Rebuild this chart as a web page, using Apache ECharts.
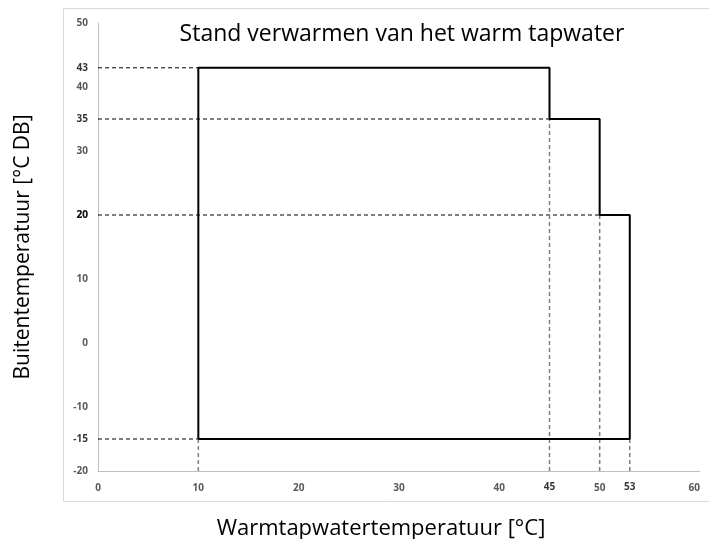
<!DOCTYPE html>
<html>
<head>
<meta charset="utf-8">
<script src="https://cdn.jsdelivr.net/npm/echarts@6/dist/echarts.min.js"></script>
<style>
  html, body { margin: 0; padding: 0; background: #fff; }
  #main { width: 709px; height: 539px; }
</style>
</head>
<body>
<div id="main"></div>
<script>
// operating envelope (warm tap water temp vs outdoor temp)
var envelopeX = [10, 10, 45, 45, 50, 50, 53, 53, 10];
var envelopeY = [-15, 43, 43, 35, 35, 20, 20, -15, -15];

// horizontal guide lines: outdoor temp and where they meet the envelope
var guideYValues = [43, 35, 20, -15];
var guideYEnds = [10, 45, 50, 10];

// vertical guide lines: water temp and top of the dashed part
var guideXValues = [10, 45, 50, 53];
var guideXTops = [-15, 35, 20, -15];

var xMin = 0, xMax = 60, xStep = 10;
var yMin = -20, yMax = 50, yStep = 10;

var FONT = '"Open Sans", sans-serif';

var chartDom = document.getElementById('main');
var myChart = echarts.init(chartDom);

var series = [];

guideYValues.forEach(function (v, i) {
  series.push({
    type: 'line',
    data: [[xMin, v], [guideYEnds[i], v]],
    symbol: 'none',
    silent: true,
    lineStyle: { color: '#000', width: 1, type: [4, 3] },
    z: 1
  });
});

guideXValues.forEach(function (v, i) {
  series.push({
    type: 'line',
    data: [[v, yMin], [v, guideXTops[i]]],
    symbol: 'none',
    silent: true,
    lineStyle: { color: '#7f7f7f', width: 1.5, type: [4, 3] },
    z: 1
  });
});

series.push({
  name: 'envelope',
  type: 'line',
  data: envelopeX.map(function (x, i) { return [x, envelopeY[i]]; }),
  symbol: 'none',
  lineStyle: { color: '#000', width: 2 },
  z: 3
});

// bold value labels on the y axis
series.push({
  type: 'scatter',
  data: guideYValues.map(function (v) { return [xMin, v]; }),
  symbolSize: 0,
  label: {
    show: true,
    position: 'left',
    distance: 10,
    formatter: function (p) { return p.value[1]; },
    color: '#000',
    fontWeight: 'bold',
    fontSize: 10,
    fontFamily: FONT
  }
});

// bold value labels on the x axis (45 and 53)
series.push({
  type: 'scatter',
  data: [[45, yMin], [53, yMin]],
  symbolSize: 0,
  label: {
    show: true,
    position: 'bottom',
    distance: 11,
    formatter: function (p) { return p.value[0]; },
    color: '#000',
    fontWeight: 'bold',
    fontSize: 10,
    fontFamily: FONT
  }
});

myChart.setOption({
  animation: false,
  backgroundColor: '#fff',
  title: {
    text: 'Stand verwarmen van het warm tapwater',
    left: 397,
    textAlign: 'center',
    top: 18,
    textStyle: { fontFamily: FONT, fontSize: 23, fontWeight: 'normal', color: '#000' }
  },
  graphic: [{
    type: 'rect',
    shape: { x: 63.5, y: 8.5, width: 650, height: 493 },
    style: { fill: 'none', stroke: '#d9d9d9', lineWidth: 1 },
    silent: true,
    z: -10
  }],
  grid: { left: 98, right: 9, top: 23, bottom: 68, outerBoundsMode: 'none' },
  xAxis: {
    type: 'value',
    min: xMin,
    max: xMax,
    interval: xStep,
    name: 'Warmtapwatertemperatuur [°C]',
    nameLocation: 'middle',
    nameGap: 47,
    nameTextStyle: { fontFamily: FONT, fontSize: 22, color: '#000', padding: [0, 36, 0, 0] },
    axisLine: { show: true, onZero: false, lineStyle: { color: '#bfbfbf', width: 1 } },
    axisTick: { show: false },
    splitLine: { show: false },
    axisLabel: {
      margin: 12,
      color: '#595959',
      fontWeight: 'bold',
      fontSize: 10,
      fontFamily: FONT,
      alignMaxLabel: 'right'
    }
  },
  yAxis: {
    type: 'value',
    min: yMin,
    max: yMax,
    interval: yStep,
    name: 'Buitentemperatuur [°C DB]',
    nameLocation: 'middle',
    nameGap: 64,
    nameTextStyle: { fontFamily: FONT, fontSize: 21, color: '#000' },
    axisLine: { show: true, onZero: false, lineStyle: { color: '#bfbfbf', width: 1 } },
    axisTick: { show: false },
    splitLine: { show: false },
    axisLabel: {
      margin: 10,
      color: '#595959',
      fontWeight: 'bold',
      fontSize: 10,
      fontFamily: FONT
    }
  },
  series: series
});

window.addEventListener('resize', myChart.resize);
</script>
</body>
</html>
